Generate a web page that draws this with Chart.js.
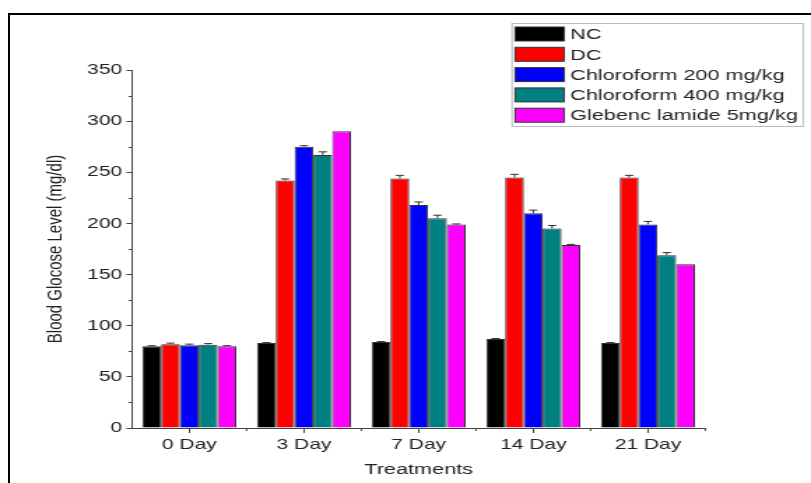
<!DOCTYPE html>
<html>
<head>
<meta charset="utf-8">
<script src="https://cdn.jsdelivr.net/npm/chart.js@4.4.1/dist/chart.umd.min.js"></script>
<style>
  html, body { margin: 0; padding: 0; background: #fff; overflow: hidden; }
  #frame { position: absolute; left: 8px; top: 13px; width: 820px; height: 480px;
           border-top: 2px solid #000; border-left: 2px solid #000; }
  /* the original figure is stretched sideways, so the chart is drawn narrow and widened */
  #wrap { position: absolute; left: 0; top: 0; width: 580px; height: 483px;
          transform: scaleX(1.3983); transform-origin: 0 0; }
</style>
</head>
<body>
<div id="frame"></div>
<div id="wrap"><canvas id="chart" width="580" height="483"></canvas></div>
<script>
// categories and series (mg/dl)
var days = ['0 Day', '3 Day', '7 Day', '14 Day', '21 Day'];
var nc = [80, 83, 84, 87, 83];
var dc = [82, 242, 244, 245, 245];
var chl200 = [81, 275, 218, 210, 199];
var chl400 = [81.5, 267, 205, 195, 169];
var gleb = [80, 290, 199, 179, 160];
// error bar sizes
var ncErr = [0.5, 0.5, 0.5, 0.5, 0.5];
var dcErr = [1, 1.5, 3, 3, 2];
var chl200Err = [1, 1, 3, 3, 3];
var chl400Err = [1, 3, 3, 3, 2.5];
var glebErr = [0.5, 0, 0.5, 0.5, 0];
var yMax = 350, yStep = 50;

var FONT = 'Liberation Sans, Arial, sans-serif';
var TXT = '#222';

function ds(label, data, err, color) {
    return {label: label, data: data, errors: err, backgroundColor: color,
            borderColor: '#333', borderWidth: 1, borderSkipped: 'bottom'};
}

// error bars, drawn upward with a cap
var errorBars = {
    id: 'errorBars',
    afterDatasetsDraw: function (chart) {
        var ctx = chart.ctx, y = chart.scales.y;
        ctx.save();
        ctx.strokeStyle = '#333';
        ctx.lineWidth = 1;
        chart.data.datasets.forEach(function (d, i) {
            var meta = chart.getDatasetMeta(i);
            meta.data.forEach(function (bar, j) {
                var e = d.errors[j];
                if (!e) return;
                var y0 = y.getPixelForValue(d.data[j]);
                var y1 = y.getPixelForValue(d.data[j] + e);
                ctx.beginPath();
                ctx.moveTo(bar.x, y0);
                ctx.lineTo(bar.x, y1);
                ctx.moveTo(bar.x - 3, y1);
                ctx.lineTo(bar.x + 3, y1);
                ctx.stroke();
            });
        });
        ctx.restore();
    }
};

// minor ticks on both axes
var minorTicks = {
    id: 'minorTicks',
    afterDraw: function (chart) {
        var ctx = chart.ctx, x = chart.scales.x, y = chart.scales.y;
        var area = chart.chartArea;
        ctx.save();
        ctx.strokeStyle = '#444';
        ctx.lineWidth = 1;
        ctx.beginPath();
        for (var v = yStep / 2; v < yMax; v += yStep) {
            var py = Math.round(y.getPixelForValue(v)) + 0.5;
            ctx.moveTo(area.left - 2.5, py);
            ctx.lineTo(area.left, py);
        }
        for (var i = 0; i < days.length; i++) {
            var px = x.getPixelForValue(i + 0.5);
            ctx.moveTo(px, area.bottom);
            ctx.lineTo(px, area.bottom + 3);
        }
        ctx.stroke();
        ctx.restore();
    }
};

// boxed legend in the top right corner
var boxLegend = {
    id: 'boxLegend',
    afterDraw: function (chart) {
        var ctx = chart.ctx;
        var left = 366.2, top = 23, right = 574.4, bottom = 126;
        ctx.save();
        ctx.strokeStyle = '#bbb';
        ctx.lineWidth = 1;
        ctx.strokeRect(left, top + 0.5, right - left, bottom - top);
        ctx.font = '15.5px ' + FONT;
        ctx.textBaseline = 'middle';
        chart.data.datasets.forEach(function (d, i) {
            var cy = 34 + i * 20.3;
            ctx.fillStyle = d.backgroundColor;
            ctx.fillRect(368.4, cy - 7, 35, 14);
            ctx.strokeStyle = '#333';
            ctx.strokeRect(368.4, cy - 7, 35, 14);
            ctx.fillStyle = TXT;
            ctx.fillText(d.label, 407.7, cy + 1);
        });
        ctx.restore();
    }
};

new Chart(document.getElementById('chart').getContext('2d'), {
    type: 'bar',
    data: {
        labels: days,
        datasets: [
            ds('NC', nc, ncErr, '#000000'),
            ds('DC', dc, dcErr, '#ff0000'),
            ds('Chloroform 200 mg/kg', chl200, chl200Err, '#0000ff'),
            ds('Chloroform 400 mg/kg', chl400, chl400Err, '#008080'),
            ds('Glebenc lamide 5mg/kg', gleb, glebErr, '#ff00ff')
        ]
    },
    options: {
        responsive: false,
        animation: false,
        devicePixelRatio: 1,
        categoryPercentage: 0.82,
        barPercentage: 1,
        layout: {padding: {left: 28, top: 70, right: 75.6, bottom: 0}},
        plugins: {legend: {display: false}, tooltip: {enabled: false}},
        scales: {
            x: {
                grid: {offset: false, drawOnChartArea: false, tickLength: 5, color: '#444'},
                border: {color: '#444', width: 1},
                ticks: {color: TXT, padding: 3, font: {family: FONT, size: 15}},
                title: {display: true, text: 'Treatments', color: TXT,
                        font: {family: FONT, size: 15.5}, padding: {top: 0, bottom: 4}},
                afterFit: function (s) { s.height = 55; }
            },
            y: {
                min: 0, max: yMax,
                grid: {drawOnChartArea: false, tickLength: 4, color: '#444'},
                border: {color: '#444', width: 1},
                ticks: {stepSize: yStep, color: TXT, padding: 3, font: {family: FONT, size: 15}},
                title: {display: true, text: 'Blood Glocose Level (mg/dl)', color: TXT,
                        font: {family: FONT, size: 15}, padding: {top: 3, bottom: 0}},
                afterFit: function (s) { s.width = 66.4; }
            }
        }
    },
    plugins: [errorBars, minorTicks, boxLegend]
});
</script>
</body>
</html>
